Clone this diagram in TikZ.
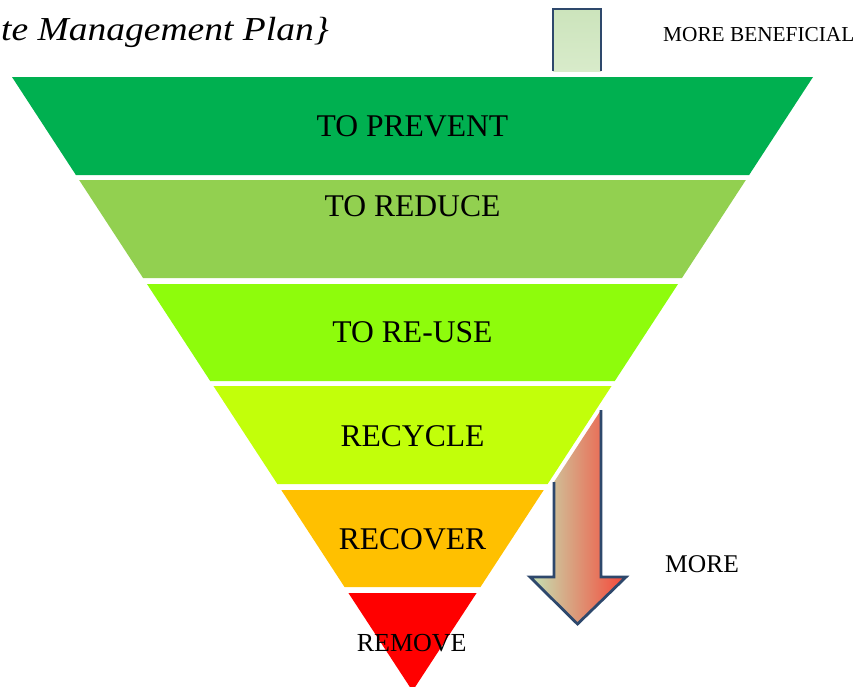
\documentclass[tikz,border=0pt]{standalone}
\usepackage{fontspec}
\setmainfont{Liberation Serif}
\definecolor{bandA}{RGB}{0,176,80}
\definecolor{bandB}{RGB}{146,208,80}
\definecolor{bandC}{RGB}{142,252,12}
\definecolor{bandD}{RGB}{194,255,10}
\definecolor{bandE}{RGB}{255,192,0}
\definecolor{bandF}{RGB}{255,0,0}
\definecolor{arrowline}{RGB}{46,72,108}
\definecolor{shaftTop}{RGB}{204,228,188}
\definecolor{shaftBot}{RGB}{216,235,202}
\definecolor{gradL}{RGB}{196,228,180}
\definecolor{gradM}{RGB}{208,180,138}
\definecolor{gradR}{RGB}{246,70,56}
\tikzset{
  bandlabel/.style={inner sep=0pt, anchor=base, font=\fontsize{31.6}{36}\selectfont},
  sidelabel/.style={inner sep=0pt, anchor=base west},
  arrowborder/.style={draw=arrowline, line width=2.8pt, line join=miter}
}
\begin{document}
\begin{tikzpicture}[x=1pt, y=-1pt]
\useasboundingbox (0,0) rectangle (861,686);
\clip (0,0) rectangle (861,686);
% bands of the inverted pyramid
\foreach \t/\b/\c in {77/175/bandA, 180/278/bandB, 284/381/bandC, 386/484/bandD, 490/587/bandE}{
  \fill[\c] ({12+0.652*(\t-77)},\t) -- ({813-0.652*(\t-77)},\t)
     -- ({813-0.652*(\b-77)},\b) -- ({12+0.652*(\b-77)},\b) -- cycle;
}
\fill[bandF] ({12+0.652*(593-77)},593) -- ({813-0.652*(593-77)},593) -- (412.5,691) -- cycle;
% labels
\node[bandlabel] (prevent) at (412.5,136) {TO PREVENT};
\node[bandlabel] (reduce) at (412.5,216) {TO REDUCE};
\node[bandlabel] (reuse) at (412.5,342) {TO RE-USE};
\node[bandlabel] (recycle) at (412.5,446) {RECYCLE};
\node[bandlabel] (recover) at (412.5,549) {RECOVER};
\node[inner sep=0pt, anchor=base, font=\fontsize{26}{30}\selectfont] (remove) at (411.7,651) {REMOVE};
% title
\node[inner sep=0pt, anchor=base west, font=\fontsize{33.5}{38}\selectfont\itshape, xscale=1.12, transform shape] (title) at (1,40) {te Management Plan\}};
% top arrow shaft
\shade[top color=shaftTop, bottom color=shaftBot] (553,9) rectangle (601,71);
\draw[arrowborder] (553,71) -- (553,9) -- (601,9) -- (601,71);
\node[sidelabel, font=\fontsize{21.3}{25}\selectfont] (benef) at (663,41) {MORE BENEFICIAL};
% big gradient arrow
\shade[left color=gradL, middle color=gradM, right color=gradR]
  (601,410) -- (601,577) -- (626,577) -- (577.5,624) -- (530,577) -- (554,577) -- (554,482) -- cycle;
\draw[arrowborder] (554,482) -- (554,577) -- (530,577) -- (577.5,624) -- (626,577) -- (601,577) -- (601,410);
\node[sidelabel, font=\fontsize{25.5}{30}\selectfont] (more) at (665,572) {MORE};
\end{tikzpicture}
\end{document}
